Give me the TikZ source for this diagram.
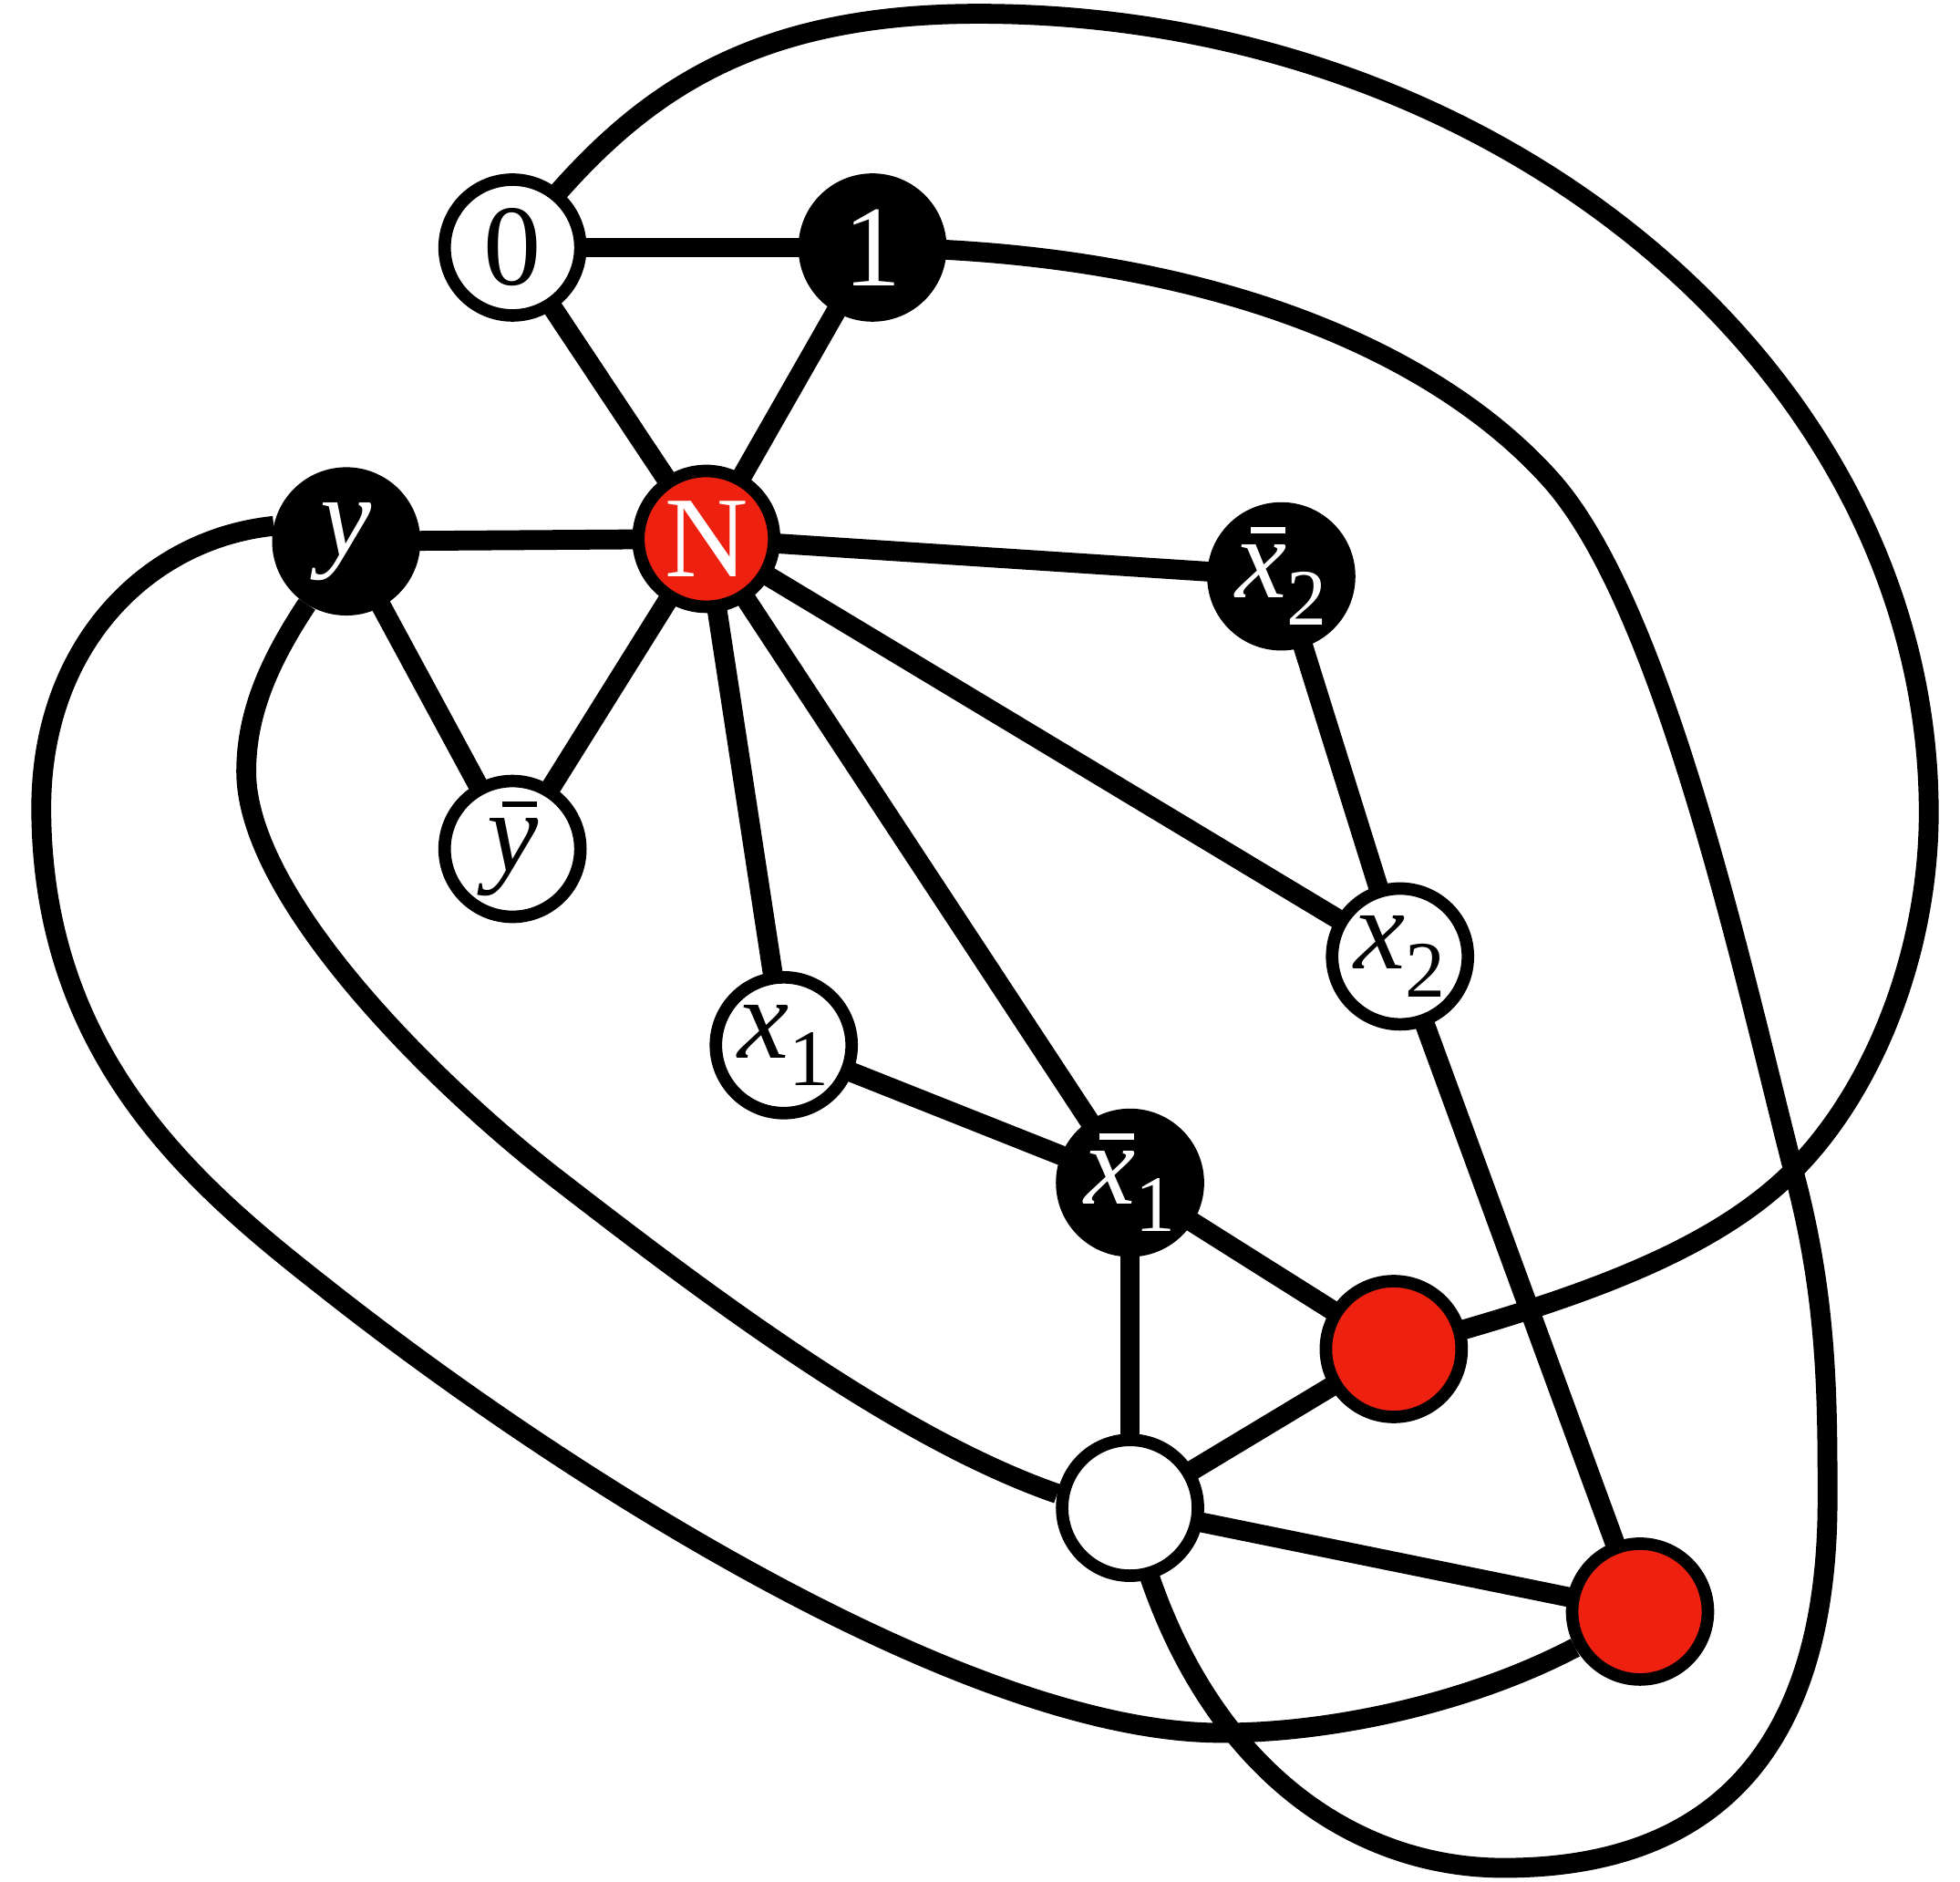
\documentclass[tikz,border=0pt]{standalone}
\usepackage{fontspec}
\setmainfont{Liberation Serif}
\usetikzlibrary{backgrounds}
\definecolor{nred}{RGB}{238,32,16}
\newcommand{\ovbar}[1]{\leavevmode\setbox0\hbox{#1}\vbox{\offinterlineskip\hbox to\wd0{\hfil\kern0.12em\rule{0.3em}{0.05em}\hfil}\kern0.1em\box0}}
\newcommand{\lsub}[1]{\raisebox{-0.24em}{\fontsize{25}{25}\selectfont #1}}
\begin{document}
\begin{tikzpicture}[x=0.013712cm,y=-0.013712cm,
  vx/.style={circle,draw=black,line width=3.9pt,minimum size=1.49cm,inner sep=0pt,font=\fontsize{36}{40}\selectfont},
  wv/.style={vx,fill=white,text=black},
  bv/.style={vx,fill=black,text=white},
  rv/.style={vx,fill=nred,text=white},
  ed/.style={line width=6.2pt}]
\useasboundingbox (0,0) rectangle (1568,1505);
\node[wv] (n0) at (410,198) {0};
\node[bv] (n1) at (698,198) {1};
\node[bv] (y) at (277,433) {\textit{y}};
\node[rv] (N) at (565,431) {N};
\node[bv] (x2b) at (1025,461) {\ovbar{\textit{x}}\lsub{2}};
\node[wv] (yb) at (410,679) {\ovbar{\textit{y}}};
\node[wv] (x1) at (627,836) {\textit{x}\lsub{1}};
\node[wv] (x2) at (1120,765) {\textit{x}\lsub{2}};
\node[bv] (x1b) at (904,946) {\ovbar{\textit{x}}\lsub{1}};
\node[rv] (r1) at (1115,1079) {};
\node[wv] (w) at (904,1206) {};
\node[rv] (r2) at (1312,1289) {};
\begin{scope}[on background layer]
\draw[ed] (n0.center) -- (n1.center);
\draw[ed] (n0.center) -- (N.center);
\draw[ed] (n1.center) -- (N.center);
\draw[ed] (y.center) -- (N.center);
\draw[ed] (N.center) -- (x2b.center);
\draw[ed] (y.center) -- (yb.center);
\draw[ed] (N.center) -- (yb.center);
\draw[ed] (N.center) -- (x1.center);
\draw[ed] (N.center) -- (x1b.center);
\draw[ed] (N.center) -- (x2.center);
\draw[ed] (x2b.center) -- (x2.center);
\draw[ed] (x1.center) -- (x1b.center);
\draw[ed] (x1b.center) -- (r1.center);
\draw[ed] (x1b.center) -- (w.center);
\draw[ed] (w.center) -- (r1.center);
\draw[ed] (w.center) -- (r2.center);
\draw[ed] (x2.center) -- (r2.center);
% long curves
\draw[ed] (n0.center) .. controls (496,88) and (583,11) .. (783,11)
  .. controls (1201,11) and (1543,300) .. (1543,650)
  .. controls (1543,760) and (1500,870) .. (1436,935)
  .. controls (1372,1000) and (1265,1039) .. (r1.center);
\draw[ed] (n1.center) .. controls (948,200) and (1140,272) .. (1240,383)
  .. controls (1334,487) and (1399,800) .. (1437,945)
  .. controls (1462,1042) and (1462,1120) .. (1462,1200)
  .. controls (1462,1400) and (1370,1494) .. (1203,1494)
  .. controls (1073,1494) and (949,1401) .. (w.center);
\draw[ed] (y.168) .. controls (118,431) and (33,516) .. (33,646)
  .. controls (33,846) and (158,950) .. (260,1030)
  .. controls (464,1191) and (780,1386) .. (977,1386)
  .. controls (1070,1386) and (1180,1360) .. (r2.209);
\draw[ed] (y.238) .. controls (216,528) and (197,570) .. (197,617)
  .. controls (197,720) and (352,871) .. (447,944)
  .. controls (566,1036) and (717,1150) .. (w.169);
\end{scope}
\end{tikzpicture}
\end{document}
